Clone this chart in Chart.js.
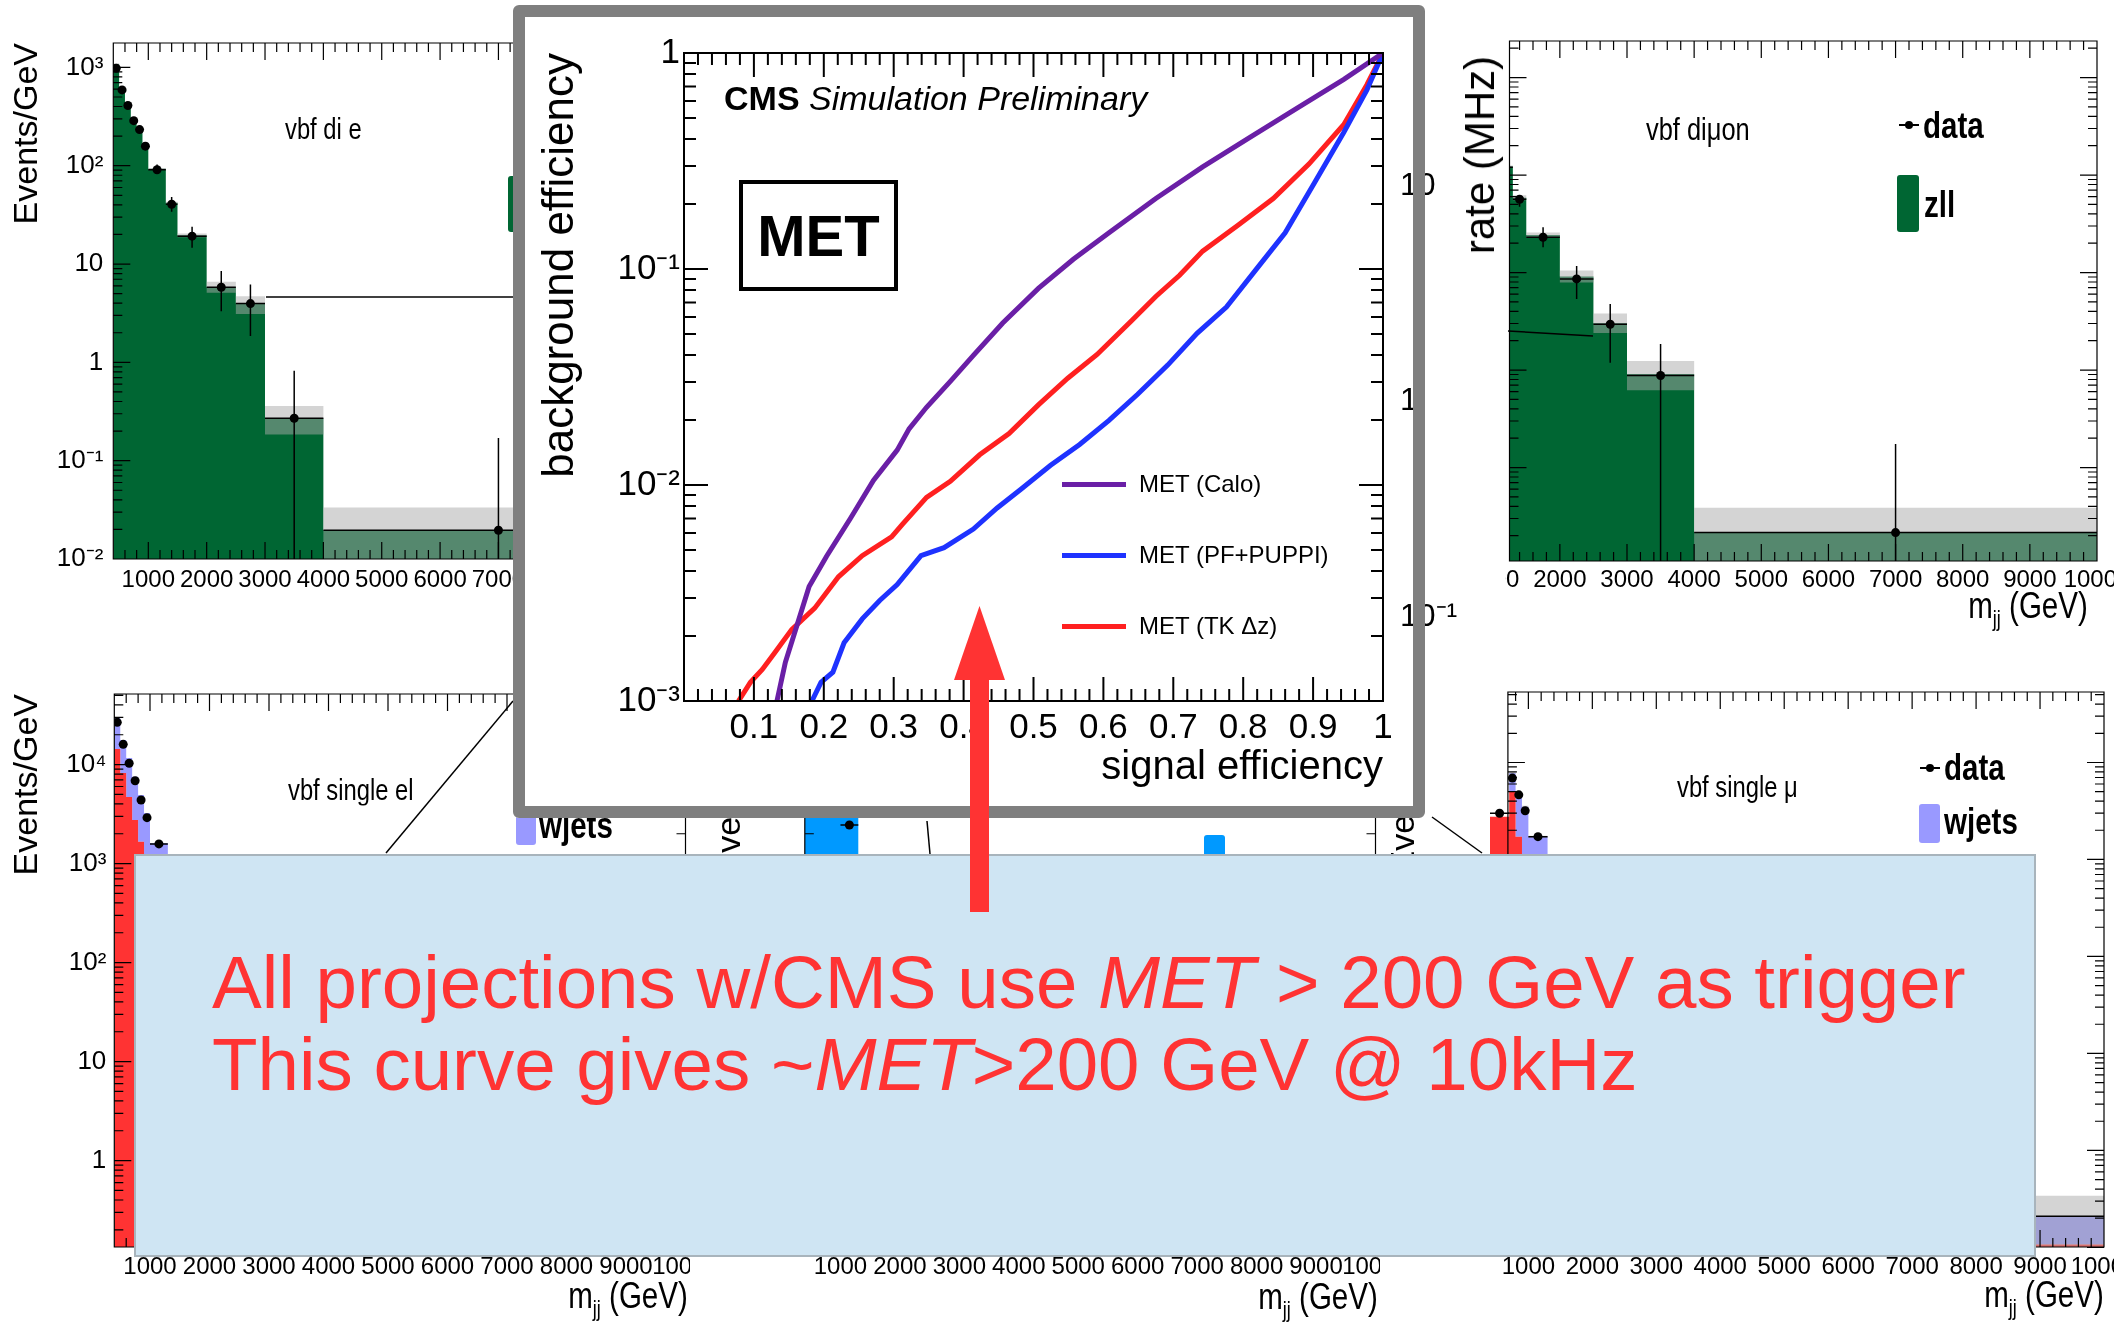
<!DOCTYPE html>
<html>
<head>
<meta charset="utf-8">
<script src="https://cdn.jsdelivr.net/npm/chart.js@4.4.1/dist/chart.umd.min.js"></script>
<style>
  html, body { margin: 0; padding: 0; background: #fff; }
  #page { position: relative; width: 2114px; height: 1327px; overflow: hidden; background: #fff;
          font-family: 'Liberation Sans', Arial, sans-serif; color: #000; }
  canvas { position: absolute; }
  .abs { position: absolute; }
  .clip { position: absolute; overflow: hidden; }
  .lbl { position: absolute; white-space: nowrap; line-height: 1; transform: translateY(-50%); }
  .narrow { transform: translateY(-50%) scaleX(0.82); transform-origin: left center; }
  .narrowR { transform: translateY(-50%) scaleX(0.82); transform-origin: right center; }
  .leg { font-weight: bold; font-size: 36px; }
</style>
</head>
<body>
<div id="page">
  <!-- background panels -->
  <canvas id="die" width="678" height="600" style="left:0;top:0;z-index:1"></canvas>
  <canvas id="dimu" width="609" height="610" style="left:1505px;top:0;z-index:1"></canvas>
  <div class="clip" style="left:0;top:680px;width:694px;height:647px;z-index:1">
    <canvas id="sel" width="690" height="627" style="left:0;top:0"></canvas>
  </div>
  <div class="clip" style="left:690px;top:680px;width:700px;height:647px;z-index:1">
    <canvas id="mid" width="690" height="627" style="left:0;top:0"></canvas>
  </div>
  <canvas id="smu" width="734" height="627" style="left:1380px;top:680px;z-index:1"></canvas>

  <!-- panel titles and legends -->
  <div class="lbl narrow" style="left:285px;top:129px;font-size:29px;z-index:2">vbf di e</div>
  <div class="abs" style="left:508px;top:176px;width:10px;height:56px;background:#006633;border-radius:3px;z-index:2"></div>

  <div class="lbl narrow" style="left:1646px;top:129px;font-size:31px;z-index:2">vbf diμon</div>
  <div class="abs" style="left:1899px;top:124px;width:20px;height:2px;background:#000;z-index:2"></div>
  <div class="abs" style="left:1905px;top:121px;width:8px;height:8px;border-radius:50%;background:#000;z-index:2"></div>
  <div class="lbl narrow leg" style="left:1923px;top:126px;z-index:2">data</div>
  <div class="abs" style="left:1897px;top:175px;width:22px;height:57px;background:#006633;border-radius:3px;z-index:2"></div>
  <div class="lbl narrow leg" style="left:1924px;top:205px;z-index:2">zll</div>
  <div class="lbl narrowR" style="right:26px;top:609px;font-size:36px;z-index:2">m<sub style="font-size:22px">jj</sub> (GeV)</div>

  <div class="lbl narrow" style="left:288px;top:790px;font-size:29px;z-index:2">vbf single el</div>
  <div class="abs" style="left:516px;top:805px;width:20px;height:40px;background:#9999ff;border-radius:3px;z-index:2"></div>
  <div class="lbl narrow leg" style="left:539px;top:826px;z-index:2">wjets</div>
  <div class="lbl narrowR" style="right:1426px;top:1299px;font-size:36px;z-index:2">m<sub style="font-size:22px">jj</sub> (GeV)</div>

  <div class="abs" style="left:1204px;top:835px;width:21px;height:25px;background:#0099ff;border-radius:3px;z-index:2"></div>
  <div class="lbl narrowR" style="right:736px;top:1300px;font-size:36px;z-index:2">m<sub style="font-size:22px">jj</sub> (GeV)</div>

  <div class="lbl narrow" style="left:1677px;top:787px;font-size:29px;z-index:2">vbf single μ</div>
  <div class="abs" style="left:1920px;top:767px;width:20px;height:2px;background:#000;z-index:2"></div>
  <div class="abs" style="left:1926px;top:764px;width:8px;height:8px;border-radius:50%;background:#000;z-index:2"></div>
  <div class="lbl narrow leg" style="left:1944px;top:768px;z-index:2">data</div>
  <div class="abs" style="left:1919px;top:804px;width:21px;height:39px;background:#9999ff;border-radius:3px;z-index:2"></div>
  <div class="lbl narrow leg" style="left:1944px;top:822px;z-index:2">wjets</div>
  <div class="lbl narrowR" style="right:10px;top:1298px;font-size:36px;z-index:2">m<sub style="font-size:22px">jj</sub> (GeV)</div>

  <!-- stray annotation lines of the slide -->
  <svg class="abs" width="2114" height="1327" style="left:0;top:0;z-index:3">
    <g stroke="#000" stroke-width="1.5">
      <line x1="266" y1="297" x2="514" y2="297"/>
      <line x1="1508" y1="331" x2="1593" y2="336"/>
      <line x1="386" y1="853" x2="513" y2="701"/>
      <line x1="927" y1="821" x2="930" y2="854"/>
      <line x1="1432" y1="817" x2="1482" y2="853"/>
    </g>
  </svg>

  <!-- central MET box -->
  <div class="abs" style="left:513px;top:5px;width:912px;height:813px;background:#fff;z-index:4;border-radius:6px"></div>
  <canvas id="roc" width="888" height="789" style="left:525px;top:17px;z-index:5"></canvas>
  <div class="lbl" style="left:724px;top:98px;font-size:34px;z-index:6"><b>CMS</b> <i>Simulation Preliminary</i></div>
  <div class="abs" style="left:739px;top:180px;width:159px;height:111px;border:4px solid #000;box-sizing:border-box;z-index:6;
       display:flex;align-items:center;justify-content:center;font-weight:bold;font-size:58px">MET</div>
  <div class="abs" style="left:1062px;top:482px;width:64px;height:5px;background:#6a1fa6;z-index:6"></div>
  <div class="lbl" style="left:1139px;top:484px;font-size:24px;z-index:6">MET (Calo)</div>
  <div class="abs" style="left:1062px;top:553px;width:64px;height:5px;background:#1e32ff;z-index:6"></div>
  <div class="lbl" style="left:1139px;top:555px;font-size:24px;z-index:6">MET (PF+PUPPI)</div>
  <div class="abs" style="left:1062px;top:624px;width:64px;height:5px;background:#ff2020;z-index:6"></div>
  <div class="lbl" style="left:1139px;top:626px;font-size:24px;z-index:6">MET (TK Δz)</div>

  <canvas id="rate" width="100" height="710" style="left:1380px;top:0;z-index:7"></canvas>
  <div class="abs" style="left:1480px;top:155px;font-size:42px;white-space:nowrap;line-height:1;z-index:7;
       transform:translate(-50%,-50%) rotate(-90deg)">rate (MHz)</div>
  <div class="abs" style="left:513px;top:5px;width:912px;height:813px;border:12px solid #7f7f7f;box-sizing:border-box;border-radius:6px;z-index:8"></div>

  <!-- message box -->
  <div class="abs" style="left:134px;top:854px;width:1902px;height:403px;background:#cfe5f3;border:2px solid #a8b4bc;box-sizing:border-box;z-index:9"></div>
  <div class="abs" style="left:212px;top:946px;font-size:74.5px;line-height:74px;color:#ff3333;white-space:nowrap;z-index:9">All projections w/CMS use <i>MET</i> &gt; 200 GeV as trigger</div>
  <div class="abs" style="left:212px;top:1028px;font-size:74.5px;line-height:74px;color:#ff3333;white-space:nowrap;z-index:9">This curve gives ~<i>MET</i>&gt;200 GeV @ 10kHz</div>

  <svg class="abs" width="2114" height="1327" style="left:0;top:0;z-index:10">
    <rect x="970" y="676" width="19" height="236" fill="#ff3333"/>
    <polygon points="954,680 1005,680 979.5,606" fill="#ff3333"/>
  </svg>
</div>

<script>
// ROC curves: signal efficiency vs background efficiency
const caloSig = [0.133, 0.145, 0.162, 0.179, 0.204, 0.238, 0.271, 0.305, 0.322, 0.347, 0.381, 0.414, 0.456, 0.507, 0.557, 0.608, 0.675, 0.742, 0.809, 0.876, 0.944, 1.0];
const caloBkg = [0.0010, 0.00151, 0.00226, 0.00339, 0.00468, 0.0070, 0.0105, 0.0145, 0.0182, 0.0229, 0.0302, 0.0398, 0.0562, 0.0813, 0.111, 0.147, 0.212, 0.297, 0.406, 0.553, 0.755, 1.0];
const puppiSig = [0.183, 0.196, 0.213, 0.229, 0.255, 0.280, 0.305, 0.339, 0.372, 0.414, 0.448, 0.482, 0.524, 0.566, 0.608, 0.649, 0.692, 0.734, 0.776, 0.818, 0.860, 0.902, 0.944, 0.977, 1.0];
const puppiBkg = [0.0010, 0.00122, 0.00136, 0.00186, 0.0024, 0.00292, 0.00346, 0.00471, 0.00513, 0.00625, 0.00783, 0.00955, 0.0123, 0.0154, 0.0199, 0.0263, 0.0359, 0.0504, 0.0667, 0.0991, 0.147, 0.251, 0.430, 0.675, 1.0];
const tkSig = [0.078, 0.095, 0.112, 0.129, 0.154, 0.187, 0.221, 0.255, 0.297, 0.313, 0.347, 0.381, 0.423, 0.465, 0.507, 0.549, 0.591, 0.641, 0.675, 0.709, 0.742, 0.793, 0.843, 0.894, 0.944, 0.977, 1.0];
const tkBkg = [0.0010, 0.00122, 0.00140, 0.00166, 0.00214, 0.00269, 0.00376, 0.00471, 0.00575, 0.0066, 0.00877, 0.0104, 0.0138, 0.0173, 0.0235, 0.0312, 0.0402, 0.0579, 0.0746, 0.0935, 0.121, 0.160, 0.212, 0.306, 0.467, 0.713, 1.0];

// vbf di e (top left)
const dieEdges = [400, 500, 600, 700, 800, 900, 1000, 1300, 1500, 2000, 2500, 3000, 4000, 10000];
const dieZll = [1080, 615, 428, 304, 244, 170, 93, 42, 19.6, 5.8, 4.0, 0.27, 0.0196];
const dieBandUp = [1100, 625, 435, 310, 248, 173, 95, 43, 20.5, 6.6, 4.7, 0.36, 0.0335];
const dieBandDn = [1060, 605, 421, 298, 240, 167, 91, 41, 18.7, 5.1, 3.1, 0.185, 0.005];
const dieData = [980, 590, 410, 287, 233, 158, 91, 40.5, 19.2, 5.8, 3.96, 0.27, 0.0196];
const dieDataHi = [1040, 620, 430, 302, 246, 168, 103, 48, 24, 8.5, 6.2, 0.82, 0.17];
const dieDataLo = [920, 560, 390, 272, 220, 148, 86, 34, 14.6, 3.3, 1.85, 0.001, 0.001];

// vbf dimuon (top right)
const dimuEdges = [1000, 1300, 1500, 2000, 2500, 3000, 4000, 10000];
const dimuZll = [122, 58.6, 24.3, 9.1, 3.02, 0.91, 0.0215];
const dimuBandUp = [125, 62, 25.8, 10.5, 3.8, 1.24, 0.0386];
const dimuBandDn = [119, 55, 22.8, 7.9, 2.4, 0.62, 0.005];
const dimuData = [120, 56.5, 23, 8.6, 2.95, 0.88, 0.0215];
const dimuDataHi = [130, 62.5, 29.2, 11.7, 4.76, 1.85, 0.174];
const dimuDataLo = [110, 47.4, 18.2, 5.36, 1.19, 0.001, 0.001];

// vbf single el (bottom left)
const selEdges = [400, 500, 600, 700, 800, 900, 1000, 1300, 1500, 2000, 2500, 3000, 4000, 10000];
const selOther = [14400, 8220, 4710, 2760, 1660, 950, 480, 190, 75, 20, 6, 1.2, 0.09];
const selWjets = [29500, 17700, 11650, 7550, 4930, 3240, 1600, 690, 290, 78, 24, 5, 0.2];
const selData = [26700, 16000, 10300, 6870, 4390, 2910, 1580, 680, 285, 76, 23, 5, 0.2];

// bottom middle panel (mostly covered)
const midEdges = [400, 500, 600, 700, 800, 900, 1000, 1300, 1500, 2000, 2500, 3000, 4000, 10000];
const midBlue = [40000, 26000, 17000, 11000, 7000, 4600, 3000, 1000, 320, 85, 26, 3.5, 0.12];
const midData = [38000, 25000, 16000, 10500, 6800, 4400, 2450, 950, 300, 80, 25, 3.2, 0.11];

// vbf single mu (bottom right)
const smuEdges = [400, 700, 800, 900, 1000, 1300, 1500, 2000, 2500, 3000, 4000, 10000];
const smuOther = [2760, 5000, 1720, 800, 450, 180, 70, 18, 5, 1.0, 0.107];
const smuWjets = [2760, 7800, 4900, 3500, 1720, 700, 290, 78, 24, 5, 0.21];
const smuBandUp = [2760, 7950, 5000, 3570, 1760, 720, 300, 82, 26, 5.6, 0.34];
const smuBandDn = [2760, 7650, 4800, 3430, 1680, 680, 280, 74, 22, 4.4, 0.09];
const smuData = [3000, 6900, 4640, 3180, 1720, 690, 290, 78, 24, 5, 0.21];

// tick labels
const mjjTicks = [1000, 2000, 3000, 4000, 5000, 6000, 7000, 8000, 9000, 10000];
const effTicks = [0.1, 0.2, 0.3, 0.4, 0.5, 0.6, 0.7, 0.8, 0.9, 1];
const effLogTicks = [0.001, 0.01, 0.1, 1];
const rateTicks = [0.1, 1, 10];

const SANS = "'Liberation Sans', Arial, sans-serif";

function steps(edges, vals) {
    const pts = vals.map((v, i) => ({x: edges[i], y: v}));
    pts.push({x: edges[edges.length - 1], y: vals[vals.length - 1]});
    return pts;
}
function centres(edges) {
    return edges.slice(1).map((e, i) => (e + edges[i]) / 2);
}
// vertical and horizontal error bars, separated by gaps
function errBars(edges, vals, lo, hi) {
    const pts = [];
    centres(edges).forEach((c, i) => {
        if (lo) pts.push({x: c, y: lo[i]}, {x: c, y: hi[i]}, {x: c, y: null});
        pts.push({x: edges[i], y: vals[i]}, {x: edges[i + 1], y: vals[i]}, {x: c, y: null});
    });
    return pts;
}
function logTicks(e0, e1) {
    const major = [], minor = [];
    for (let e = e0; e <= e1; e++) {
        major.push(Math.pow(10, e));
        for (let k = 2; k < 10; k++) minor.push(k * Math.pow(10, e));
    }
    return {major, minor};
}
function linTicks(from, to, step) {
    const out = [];
    for (let i = 0; from + i * step <= to + 1e-9; i++) out.push(+(from + i * step).toFixed(6));
    return out;
}
const sup = {'-': '⁻', '0': '⁰', '1': '¹', '2': '²', '3': '³', '4': '⁴'};
function powLabel(v) {
    const e = Math.round(Math.log10(v));
    if (e === 0) return '1';
    if (e === 1) return '10';
    return '10' + String(e).split('').map(c => sup[c]).join('');
}

// ROOT style frame with inward ticks on all four sides
const rootFrame = {
    id: 'rootFrame',
    afterDatasetsDraw(chart, args, o) {
        if (!o.x) return;
        const {ctx, chartArea: a} = chart;
        const sx = chart.scales.x, sy = chart.scales.y;
        const left = o.xFrom ? sx.getPixelForValue(o.xFrom) : a.left;
        ctx.save();
        ctx.strokeStyle = '#000';
        ctx.lineWidth = o.lw;
        ctx.beginPath();
        [[o.x.major, o.len[0]], [o.x.minor, o.len[1]]].forEach(([vals, len]) => vals.forEach(v => {
            const p = sx.getPixelForValue(v);
            if (p < left - 0.5 || p > a.right + 0.5) return;
            ctx.moveTo(p, a.bottom); ctx.lineTo(p, a.bottom - len);
            ctx.moveTo(p, a.top); ctx.lineTo(p, a.top + len);
        }));
        [[o.y.major, o.len[0]], [o.y.minor, o.len[1]]].forEach(([vals, len]) => vals.forEach(v => {
            const p = sy.getPixelForValue(v);
            if (p < a.top - 0.5 || p > a.bottom + 0.5) return;
            ctx.moveTo(left, p); ctx.lineTo(left + len, p);
            ctx.moveTo(a.right, p); ctx.lineTo(a.right - len, p);
        }));
        ctx.rect(left, a.top, a.right - left, a.bottom - a.top);
        ctx.stroke();
        ctx.restore();
    }
};

const mjjFrame = {major: linTicks(1000, 10000, 1000), minor: linTicks(200, 10000, 200)};

function histPanel(id, p) {
    const ds = [];
    p.layers.forEach((l, i) => ds.push({
        data: steps(p.edges, l.vals), stepped: true, fill: i === 0 ? 'start' : '-1',
        backgroundColor: l.color, borderColor: 'rgba(0,0,0,0)', borderWidth: 0, pointRadius: 0, order: 10
    }));
    if (p.bandUp) {
        ds.push({data: steps(p.edges, p.bandDn), stepped: true, fill: false, borderWidth: 0,
                 borderColor: 'rgba(0,0,0,0)', pointRadius: 0, order: 3});
        ds.push({data: steps(p.edges, p.bandUp), stepped: true, fill: '-1', borderWidth: 0,
                 borderColor: 'rgba(0,0,0,0)', backgroundColor: 'rgba(170,170,170,0.5)', pointRadius: 0, order: 3});
    }
    ds.push({data: errBars(p.edges, p.data, p.dataLo, p.dataHi), borderColor: '#000', borderWidth: 1.5,
             pointRadius: 0, fill: false, spanGaps: false, order: 2});
    ds.push({data: centres(p.edges).map((x, i) => ({x, y: p.data[i]})), showLine: false,
             pointRadius: 4.5, pointBackgroundColor: '#000', pointBorderWidth: 0, order: 1});

    return new Chart(document.getElementById(id), {
        type: 'line',
        data: {datasets: ds},
        options: {
            animation: false, responsive: false, events: [],
            layout: {padding: {top: p.top, right: p.right, left: 0, bottom: 0}},
            plugins: {
                legend: {display: false}, tooltip: {enabled: false},
                rootFrame: {x: mjjFrame, y: logTicks(-2, 4), len: [17, 9], lw: 1.2, xFrom: p.frameFrom || 0}
            },
            scales: {
                x: {
                    type: 'linear', min: p.xMin, max: 10000,
                    grid: {display: false, drawTicks: false}, border: {display: false},
                    ticks: {autoSkip: false, maxRotation: 0, minRotation: 0, padding: p.xPad, color: '#000',
                            font: {family: SANS, size: 24}, callback: v => String(v)},
                    afterBuildTicks: s => { s.ticks = mjjTicks.map(v => ({value: v})); },
                    afterFit: s => { s.height = p.xH; s.paddingLeft = 0; s.paddingRight = 0; }
                },
                y: {
                    type: 'logarithmic', min: p.yMin, max: p.yMax,
                    grid: {display: false, drawTicks: false}, border: {display: false},
                    ticks: {display: p.yLabels, padding: p.yPad, color: '#000',
                            font: {family: SANS, size: 26}, callback: v => powLabel(v)},
                    afterBuildTicks: s => { s.ticks = p.yTicks.map(v => ({value: v})); },
                    title: {display: p.yTitle, text: 'Events/GeV', align: 'end', color: '#000',
                            font: {family: SANS, size: 34}, padding: {top: p.titlePad, bottom: 0}},
                    afterFit: s => { s.width = p.yW; s.paddingTop = 0; s.paddingBottom = 0; }
                }
            }
        },
        plugins: [rootFrame]
    });
}

histPanel('die', {
    edges: dieEdges, layers: [{vals: dieZll, color: '#006633'}],
    bandUp: dieBandUp, bandDn: dieBandDn, data: dieData, dataHi: dieDataHi, dataLo: dieDataLo,
    top: 43, right: 0, xMin: 400, xH: 41, xPad: 6.6,
    yMin: 0.01, yMax: 1770, yTicks: [0.01, 0.1, 1, 10, 100, 1000], yLabels: true, yPad: 10,
    yTitle: true, titlePad: 7, yW: 113.3
});
histPanel('dimu', {
    edges: dimuEdges, layers: [{vals: dimuZll, color: '#006633'}],
    bandUp: dimuBandUp, bandDn: dimuBandDn, data: dimuData, dataHi: dimuDataHi, dataLo: dimuDataLo,
    top: 41, right: 17, xMin: 1250, xH: 49, xPad: 4.6,
    yMin: 0.011, yMax: 2370, yTicks: [0.1, 1, 10, 100, 1000], yLabels: false, yPad: 4,
    yTitle: false, titlePad: 0, yW: 2.7
});
histPanel('sel', {
    edges: selEdges, layers: [{vals: selOther, color: '#ff3333'}, {vals: selWjets, color: '#9999ff'}],
    data: selData,
    top: 14, right: 2.6, xMin: 400, xH: 60, xPad: 5.6,
    yMin: 0.134, yMax: 51600, yTicks: [1, 10, 100, 1000, 10000], yLabels: true, yPad: 8,
    yTitle: true, titlePad: 7, yW: 114.3
});
histPanel('mid', {
    edges: midEdges, layers: [{vals: midBlue, color: '#0099ff'}],
    data: midData,
    top: 14, right: 3, xMin: 400, xH: 60, xPad: 5.6,
    yMin: 0.134, yMax: 51600, yTicks: [1, 10, 100, 1000, 10000], yLabels: false, yPad: 8,
    yTitle: true, titlePad: 20.6, yW: 114.8
});
// the red layer runs past the left axis edge, so the plot starts at 400 and the frame at 680
histPanel('smu', {
    edges: smuEdges, layers: [{vals: smuOther, color: '#ff3333'}, {vals: smuWjets, color: '#9999ff'}],
    bandUp: smuBandUp, bandDn: smuBandDn, data: smuData,
    top: 12, right: 10, xMin: 400, xH: 60, xPad: 5.6, frameFrom: 680,
    yMin: 0.101, yMax: 53300, yTicks: [1, 10, 100, 1000, 10000], yLabels: false, yPad: 8,
    yTitle: true, titlePad: 4.6, yW: 110
});

// central ROC plot
const rocLine = (sig, bkg, color) => ({
    data: sig.map((x, i) => ({x, y: bkg[i]})), borderColor: color, borderWidth: 5,
    pointRadius: 0, fill: false, tension: 0
});
new Chart(document.getElementById('roc'), {
    type: 'line',
    data: {datasets: [
        rocLine(caloSig, caloBkg, '#6a1fa6'),
        rocLine(puppiSig, puppiBkg, '#1e32ff'),
        rocLine(tkSig, tkBkg, '#ff2020')
    ]},
    options: {
        animation: false, responsive: false, events: [],
        layout: {padding: {top: 36, right: 30, left: 0, bottom: 0}},
        plugins: {
            legend: {display: false}, tooltip: {enabled: false},
            rootFrame: {x: {major: linTicks(0, 1, 0.1), minor: linTicks(0, 1, 0.02)}, y: logTicks(-3, 0), len: [24, 12], lw: 2}
        },
        scales: {
            x: {
                type: 'linear', min: 0, max: 1,
                grid: {display: false, drawTicks: false}, border: {display: false},
                ticks: {autoSkip: false, maxRotation: 0, minRotation: 0, padding: 6, color: '#000',
                        font: {family: SANS, size: 35}, callback: v => String(v)},
                afterBuildTicks: s => { s.ticks = effTicks.map(v => ({value: v})); },
                title: {display: true, text: 'signal efficiency', align: 'end', color: '#000',
                        font: {family: SANS, size: 40}, padding: {top: 0, bottom: 14}},
                afterFit: s => { s.height = 105; s.paddingLeft = 0; s.paddingRight = 0; }
            },
            y: {
                type: 'logarithmic', min: 0.001, max: 1,
                grid: {display: false, drawTicks: false}, border: {display: false},
                ticks: {padding: 4, color: '#000', font: {family: SANS, size: 35}, callback: v => powLabel(v)},
                afterBuildTicks: s => { s.ticks = effLogTicks.map(v => ({value: v})); },
                title: {display: true, text: 'background efficiency', align: 'end', color: '#000',
                        font: {family: SANS, size: 44}, padding: {top: 9.6, bottom: 0}},
                afterFit: s => { s.width = 159; s.paddingTop = 0; s.paddingBottom = 0; }
            }
        }
    },
    plugins: [rootFrame]
});

// stray rate axis showing through from the slide underneath
new Chart(document.getElementById('rate'), {
    type: 'line',
    data: {datasets: []},
    options: {
        animation: false, responsive: false, events: [],
        layout: {padding: {top: 54, bottom: 10, left: 0, right: 0}},
        plugins: {legend: {display: false}, tooltip: {enabled: false}},
        scales: {
            x: {type: 'linear', display: false, min: 0, max: 1},
            y: {
                type: 'logarithmic', position: 'right', min: 0.0414, max: 40.9,
                grid: {display: false, drawTicks: false}, border: {display: false},
                ticks: {padding: 4, color: '#000', font: {family: SANS, size: 32}, callback: v => powLabel(v)},
                afterBuildTicks: s => { s.ticks = rateTicks.map(v => ({value: v})); },
                afterFit: s => { s.width = 84; s.paddingTop = 0; s.paddingBottom = 0; }
            }
        }
    }
});
</script>
</body>
</html>
